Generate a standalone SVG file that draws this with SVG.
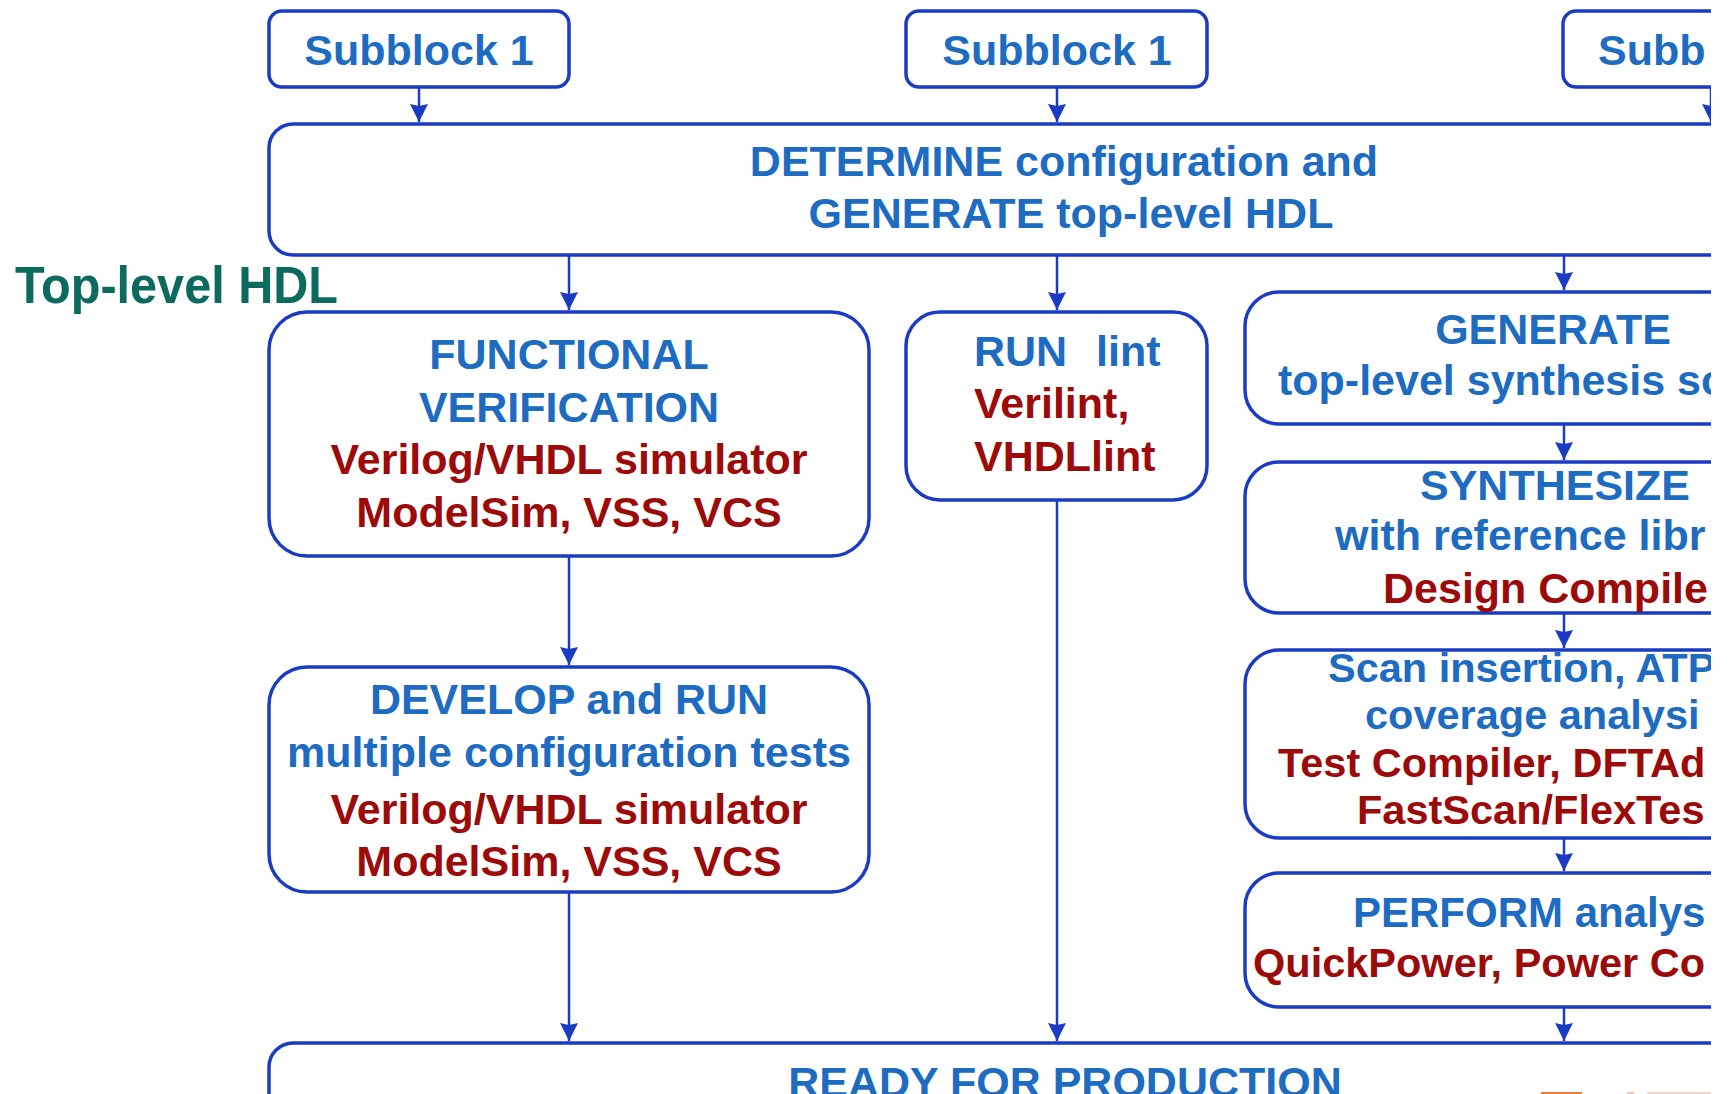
<svg xmlns="http://www.w3.org/2000/svg" width="1729" height="1094" viewBox="0 0 1729 1094">
<style>
.box{fill:#ffffff;stroke:#1a3cc4;stroke-width:3.5}
.con{fill:none;stroke:#1a3cc4;stroke-width:2.5}
text{font-family:"Liberation Sans",Arial,sans-serif;font-weight:bold;font-size:43px}
.bl{fill:#1d6cc2}
.rd{fill:#9c0a0a}
.sm{font-size:41.5px}
.tl{fill:#0c6a5e;font-size:52px}
</style>
<defs>
<marker id="ah" markerUnits="userSpaceOnUse" markerWidth="18" markerHeight="18" viewBox="0 0 18 18" refX="18" refY="9" orient="auto">
<path d="M0,0 L18,9 L0,18 L2,9 z" fill="#1a3cc4"/>
</marker>
</defs>
<rect width="1729" height="1094" fill="#ffffff"/>

<g id="connectors">
<line class="con" x1="419" y1="87" x2="419" y2="122" marker-end="url(#ah)"/>
<line class="con" x1="1057" y1="87" x2="1057" y2="122" marker-end="url(#ah)"/>
<line class="con" x1="1711" y1="87" x2="1711" y2="122" marker-end="url(#ah)"/>
<line class="con" x1="569" y1="255" x2="569" y2="310" marker-end="url(#ah)"/>
<line class="con" x1="1057" y1="255" x2="1057" y2="310" marker-end="url(#ah)"/>
<line class="con" x1="1564" y1="255" x2="1564" y2="290" marker-end="url(#ah)"/>
<line class="con" x1="569" y1="556" x2="569" y2="665" marker-end="url(#ah)"/>
<line class="con" x1="569" y1="892" x2="569" y2="1041" marker-end="url(#ah)"/>
<line class="con" x1="1057" y1="500" x2="1057" y2="1041" marker-end="url(#ah)"/>
<line class="con" x1="1564" y1="424" x2="1564" y2="460" marker-end="url(#ah)"/>
<line class="con" x1="1564" y1="613" x2="1564" y2="648" marker-end="url(#ah)"/>
<line class="con" x1="1564" y1="838" x2="1564" y2="871" marker-end="url(#ah)"/>
<line class="con" x1="1564" y1="1007" x2="1564" y2="1041" marker-end="url(#ah)"/>
</g>

<g id="subblock1">
<rect class="box" x="269" y="11" width="300" height="76" rx="13"/>
<text class="bl" x="419" y="65" text-anchor="middle">Subblock 1</text>
</g>
<g id="subblock2">
<rect class="box" x="906" y="11" width="301" height="76" rx="13"/>
<text class="bl" x="1057" y="65" text-anchor="middle">Subblock 1</text>
</g>
<g id="subblock3">
<rect class="box" x="1563" y="11" width="300" height="76" rx="13"/>
<text class="bl" x="1598" y="65">Subb</text>
</g>

<g id="determine">
<rect class="box" x="269" y="124" width="1597" height="131" rx="24"/>
<text class="bl" x="1064" y="176" text-anchor="middle">DETERMINE configuration and</text>
<text class="bl" x="1071" y="228" text-anchor="middle">GENERATE top-level HDL</text>
</g>

<g id="toplevel-label">
<text class="tl" x="15" y="303" textLength="323" lengthAdjust="spacingAndGlyphs">Top-level HDL</text>
</g>

<g id="functional">
<rect class="box" x="269" y="312" width="600" height="244" rx="38"/>
<text class="bl" x="569" y="369" text-anchor="middle">FUNCTIONAL</text>
<text class="bl" x="569" y="422" text-anchor="middle">VERIFICATION</text>
<text class="rd" x="569" y="474" text-anchor="middle">Verilog/VHDL simulator</text>
<text class="rd" x="569" y="527" text-anchor="middle">ModelSim, VSS, VCS</text>
</g>

<g id="runlint">
<rect class="box" x="906" y="312" width="301" height="188" rx="34"/>
<text class="bl" x="974" y="366">RUN <tspan x="1096">lint</tspan></text>
<text class="rd" x="974" y="418">Verilint,</text>
<text class="rd" x="974" y="471">VHDLlint</text>
</g>

<g id="develop">
<rect class="box" x="269" y="667" width="600" height="225" rx="38"/>
<text class="bl" x="569" y="714" text-anchor="middle">DEVELOP and RUN</text>
<text class="bl" x="569" y="767" text-anchor="middle">multiple configuration tests</text>
<text class="rd" x="569" y="824" text-anchor="middle">Verilog/VHDL simulator</text>
<text class="rd" x="569" y="876" text-anchor="middle">ModelSim, VSS, VCS</text>
</g>

<g id="generate">
<rect class="box" x="1245" y="292" width="620" height="132" rx="34"/>
<text class="bl" x="1553" y="344" text-anchor="middle">GENERATE</text>
<text class="bl" x="1278" y="395">top-level synthesis sc</text>
</g>

<g id="synthesize">
<rect class="box" x="1245" y="462" width="620" height="151" rx="34"/>
<text class="bl" x="1555" y="500" text-anchor="middle">SYNTHESIZE</text>
<text class="bl" x="1335" y="550">with reference libr</text>
<text class="rd" x="1383" y="603">Design Compile</text>
</g>

<g id="scan">
<rect class="box" x="1245" y="650" width="620" height="188" rx="34"/>
<text class="bl sm" x="1328" y="682">Scan insertion, ATP</text>
<text class="bl sm" x="1365" y="729">coverage analysi</text>
<text class="rd sm" x="1278" y="777">Test Compiler, DFTAd</text>
<text class="rd sm" x="1357" y="824">FastScan/FlexTes</text>
</g>

<g id="perform">
<rect class="box" x="1245" y="873" width="620" height="134" rx="34"/>
<text class="bl" x="1353" y="927" style="font-size:42px">PERFORM analys</text>
<text class="rd sm" x="1253" y="977">QuickPower, Power Co</text>
</g>

<g id="ready">
<rect class="box" x="269" y="1043" width="1597" height="100" rx="24"/>
<text class="bl" x="1065" y="1097" text-anchor="middle">READY FOR PRODUCTION</text>
</g>

<rect x="1711" y="0" width="18" height="1094" fill="#ffffff"/>
<rect x="1541" y="1092" width="41" height="2" fill="#ef7a3a"/>
<rect x="1627" y="1092" width="7" height="2" fill="#f6c2ae"/>
<rect x="1647" y="1092" width="64" height="2" fill="#f3d3cc"/>
</svg>
